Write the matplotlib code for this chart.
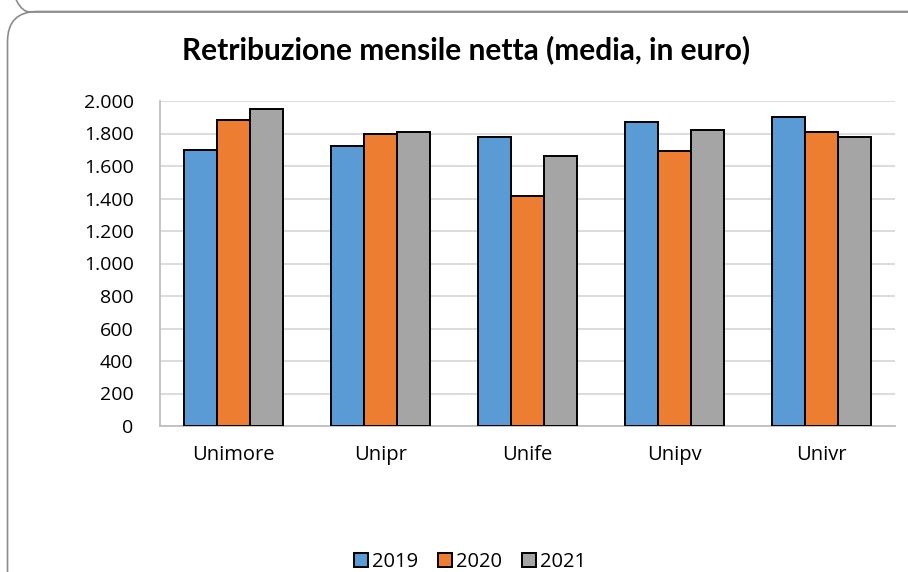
import numpy as np
import matplotlib
matplotlib.use('Agg')
import matplotlib.pyplot as plt
from matplotlib.patches import FancyBboxPatch
from matplotlib.ticker import FuncFormatter

plt.rcParams['font.family'] = ['Open Sans', 'DejaVu Sans']

# data
atenei = ['Unimore', 'Unipr', 'Unife', 'Unipv', 'Univr']
anni = ['2019', '2020', '2021']
val_2019 = [1700, 1724, 1777, 1872, 1900]
val_2020 = [1884, 1796, 1417, 1695, 1810]
val_2021 = [1950, 1809, 1663, 1823, 1777]
colori = ['#5B9BD5', '#ED7D31', '#A5A5A5']

fig = plt.figure(figsize=(9.08, 5.72), dpi=100)

# chart frame (rounded, in inches so the corners stay round), runs off the picture
frame = FancyBboxPatch((0.075, -1.0), 10.0, 1.0 + 5.605,
                       boxstyle='round,pad=0,rounding_size=0.3',
                       transform=fig.dpi_scale_trans, fill=False,
                       edgecolor='#8c8c8c', linewidth=1.2)
fig.patches.append(frame)
# corner of the frame above
prev = FancyBboxPatch((0.0, 5.6), 10.0, 2.0,
                      boxstyle='round,pad=0,rounding_size=0.3',
                      transform=fig.dpi_scale_trans, fill=False,
                      edgecolor='#8c8c8c', linewidth=1.2)
fig.patches.append(prev)

ax = fig.add_axes([160 / 908, 1 - 426 / 572, (895 - 160) / 908, (426 - 101) / 572])

x = np.arange(len(atenei))
w = 0.225
for i, (serie, col, lab) in enumerate(zip([val_2019, val_2020, val_2021], colori, anni)):
    ax.bar(x + (i - 1) * w, serie, width=w, color=col, edgecolor='black',
           linewidth=1.4, label=lab, zorder=3)

ax.set_xlim(-0.5, len(atenei) - 0.5)
ax.set_ylim(0, 2000)
ax.set_yticks(np.arange(0, 2001, 200))
ax.yaxis.set_major_formatter(FuncFormatter(lambda v, p: f'{int(v):,}'.replace(',', '.')))
ax.set_xticks(x)
ax.set_xticklabels(atenei)
ax.tick_params(axis='both', length=0, colors='black')
ax.tick_params(axis='x', pad=14, labelsize=14.5)
ax.tick_params(axis='y', pad=19, labelsize=14)
ax.grid(axis='y', color='#d9d9d9', linewidth=1.3, zorder=0)
for s in ['top', 'right']:
    ax.spines[s].set_visible(False)
for s in ['left', 'bottom']:
    ax.spines[s].set_color('#bfbfbf')
    ax.spines[s].set_linewidth(1.3)

fig.text(466 / 908, 1 - 50 / 572, 'Retribuzione mensile netta (media, in euro)',
         ha='center', va='center', fontsize=21.5, fontweight='bold',
         family=['Lato', 'DejaVu Sans'])

fig.legend(loc='center', bbox_to_anchor=(470 / 908, 1 - 562 / 572), ncol=3,
           frameon=False, fontsize=14.5, handlelength=0.7, handleheight=0.7,
           handletextpad=0.2, columnspacing=1.0)

fig.savefig('out.png', dpi=100)
